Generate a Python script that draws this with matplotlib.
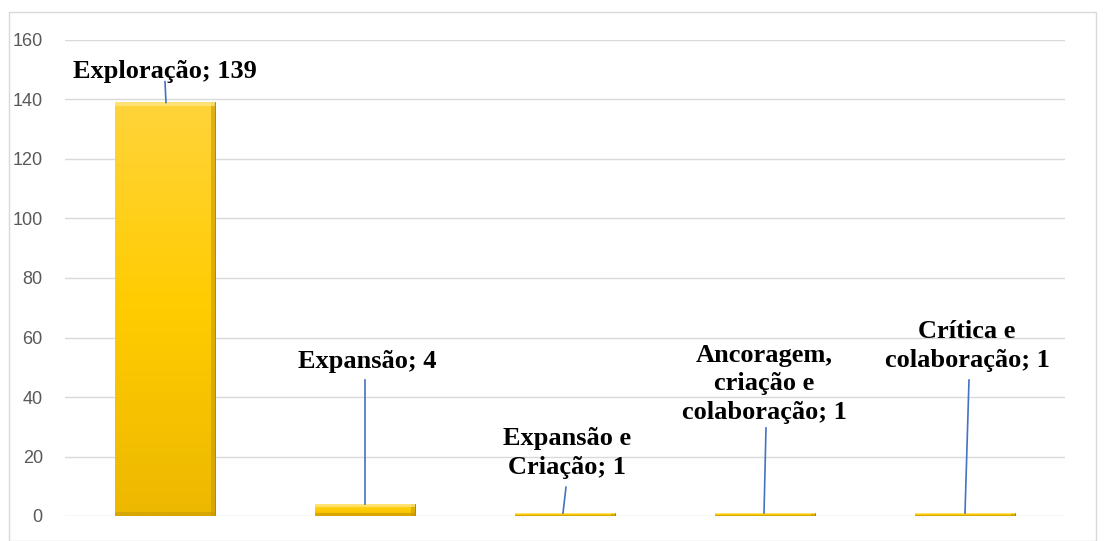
import numpy as np
import matplotlib
matplotlib.use("Agg")
import matplotlib.pyplot as plt
from matplotlib.patches import Rectangle
from matplotlib.colors import LinearSegmentedColormap

categories = ["Exploração", "Expansão", "Expansão e\nCriação",
              "Ancoragem,\ncriação e\ncolaboração", "Crítica e\ncolaboração"]
values = [139, 4, 1, 1, 1]
yticks = [0, 20, 40, 60, 80, 100, 120, 140, 160]

# label placement (layout): text centre, leader-line top and bottom x
label_xy = [(0.0, 149.5), (1.01, 51.8), (2.01, 21.2), (2.995, 44.5), (4.01, 57.1)]
leader_top = [(0.0, 146.0), (1.0, 45.7), (2.005, 9.7), (3.005, 29.6), (4.02, 45.7)]
leader_bot_x = [0.005, 1.0, 1.99, 2.995, 4.0]

W, H = 1107, 541
fig = plt.figure(figsize=(W / 100, H / 100), dpi=100)
fig.patch.set_facecolor("white")
fig.patches.append(Rectangle((9 / W, 0), (1096 - 9) / W, (H - 12) / H,
                             transform=fig.transFigure, fill=False,
                             edgecolor="#D9D9D9", linewidth=1.0))

ax = fig.add_axes([65 / W, 25 / H, 1000 / W, 476 / H])
ax.set_yticks(yticks)
ax.set_xticks([])
ax.grid(axis="y", color="#D9D9D9", linewidth=1.0)
ax.set_axisbelow(True)
for s in ax.spines.values():
    s.set_visible(False)
ax.tick_params(axis="y", length=0, pad=16, labelsize=13, labelcolor="#595959")
for t in ax.get_yticklabels():
    t.set_fontfamily("Liberation Sans")

x = np.arange(len(values))
bw = 0.5
bars = ax.bar(x, values, width=bw, color="#FFC800", edgecolor="#9C7A00",
              linewidth=0.6, zorder=2)

grad = np.linspace(0, 1, 256).reshape(-1, 1)
cmap = LinearSegmentedColormap.from_list("gold", ["#EDB800", "#FFCC00", "#FFD43A"])
for b in bars:
    x0, y0 = b.get_x(), b.get_y()
    w, h = b.get_width(), b.get_height()
    im = ax.imshow(grad, extent=[x0, x0 + w, y0, y0 + h], origin="lower",
                   cmap=cmap, aspect="auto", zorder=2.5)
    im.set_clip_path(b)
    ax.add_patch(Rectangle((x0 + w - 0.02, y0), 0.02, h, color="#C99A00",
                           alpha=0.6, zorder=2.6, linewidth=0))
    bev = min(1.2, h * 0.25)
    ax.add_patch(Rectangle((x0, y0), w, bev, color="#C99A00", alpha=0.6,
                           zorder=2.6, linewidth=0))
    ax.add_patch(Rectangle((x0, y0 + h - bev), w, bev, color="#FFE98A",
                           alpha=0.7, zorder=2.6, linewidth=0))
ax.set_xlim(-0.5, len(values) - 0.5)
ax.set_ylim(0, 160)

for i, (cat, v) in enumerate(zip(categories, values)):
    tx, ty = label_xy[i]
    lx, ly = leader_top[i]
    ax.text(tx, ty, f"{cat}; {v}", ha="center", va="center",
            fontfamily="Liberation Serif", fontweight="bold", fontsize=19,
            linespacing=1.3, color="black", zorder=5)
    ax.plot([lx, leader_bot_x[i]], [ly, v], color="#4472C4",
            linewidth=1.2, zorder=4)

fig.savefig("out.png", dpi=100)
